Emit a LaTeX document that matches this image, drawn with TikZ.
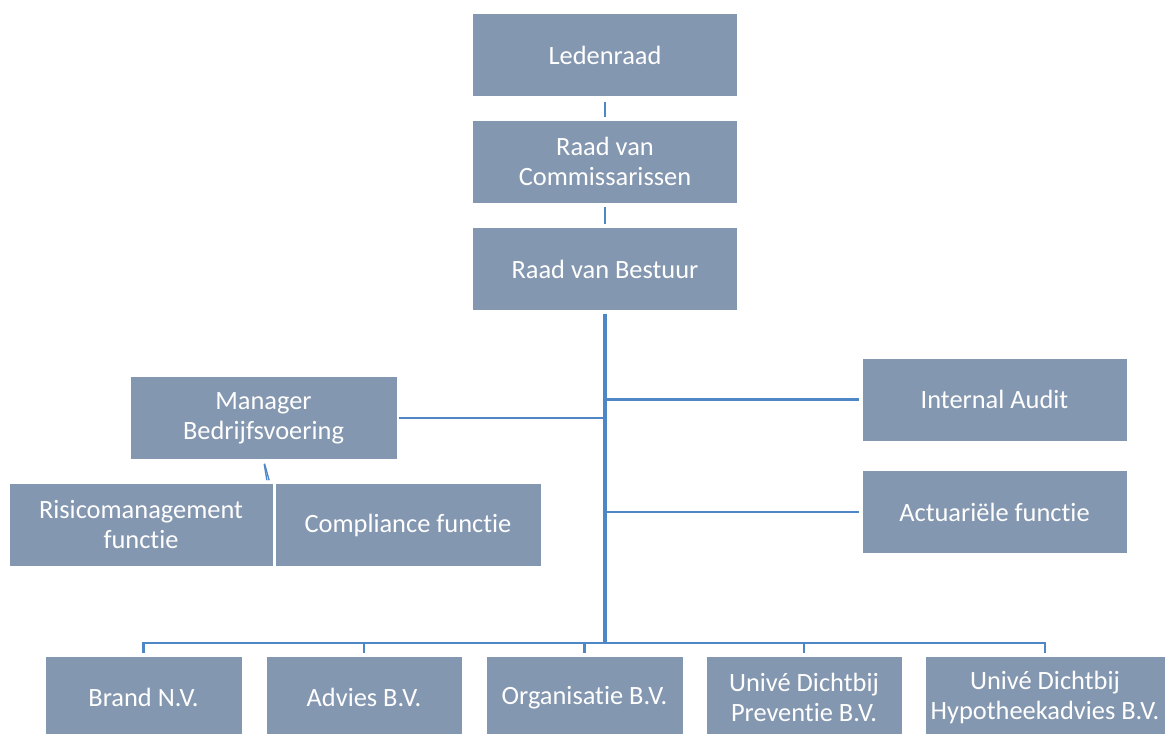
\documentclass[tikz,border=0pt]{standalone}
\usepackage{fontspec}
\setmainfont[Ligatures=NoCommon]{Carlito}
\definecolor{boxfill}{HTML}{8497B0}
\definecolor{linkblue}{HTML}{4F87C6}

\begin{document}
\begin{tikzpicture}[x=0.75pt,y=-0.75pt,
    orgbox/.style={rectangle, fill=boxfill, draw=white, line width=0.6pt,
      text=white, align=center, inner sep=0pt,
      minimum width=#1*0.75pt, minimum height=83*0.75pt,
      font=\fontsize{19.8}{22.5}\selectfont},
    link/.style={draw=linkblue, line width=1.7pt},
    trunk/.style={draw=linkblue, line width=2.4pt}]
    \useasboundingbox (0,0) rectangle (1168,733);

    % Top of the chart
    \node[orgbox=265] (leden) at (605,55) {Ledenraad};
    \node[orgbox=265] (rvc) at (605,161.5) {Raad van\\Commissarissen};
    \node[orgbox=265] (rvb) at (605,269) {Raad van Bestuur};

    % Staff functions
    \node[orgbox=267] (mgr) at (263.5,418) {Manager\\Bedrijfsvoering};
    \node[orgbox=264] (risk) at (141,525) {Risicomanagement\\functie};
    \node[orgbox=266] (comp) at (408,525) {Compliance functie};
    \node[orgbox=265] (audit) at (994.5,399.5) {Internal Audit};
    \node[orgbox=265] (actu) at (994.5,512) {Actuariële functie};

    % Subsidiaries
    \node[orgbox=197] (brand) at (143.5,697.5) {Brand N.V.};
    \node[orgbox=196] (advies) at (364,697.5) {Advies B.V.};
    \node[orgbox=197] (org) at (584.5,697.5) {Organisatie B.V.};
    \node[orgbox=196] (prev) at (804,697.5) {Univé Dichtbij\\Preventie B.V.};
    \node[orgbox=240] (hypo) at (1045,697.5) {Univé Dichtbij\\Hypotheekadvies B.V.};

    % Connectors
    \draw[link, shorten <=3.5pt, shorten >=2.25pt] (leden) -- (rvc);
    \draw[link, shorten <=3pt, shorten >=2.25pt] (rvc) -- (rvb);

    \coordinate (busy) at (0,643);
    \coordinate (bus) at (rvb.south |- busy);

    \draw[link, shorten <=1.5pt] (mgr.east) -- (mgr.east -| bus);
    \draw[link, shorten >=2pt] (audit.west -| bus) -- (audit.west);
    \draw[link, shorten >=2pt] (actu.west -| bus) -- (actu.west);

    \foreach \n in {brand,advies,org,prev,hypo}
        \draw[link, shorten >=2.25pt] (bus) -| (\n.north);

    \draw[trunk, shorten <=2pt] (rvb.south) -- (bus);

    \draw[link, line width=1pt, shorten <=3pt, shorten >=2.25pt] (mgr.south) -- ([xshift=-4.5pt]risk.north east);
    \draw[link, line width=1pt, shorten <=3pt, shorten >=2.25pt] (mgr.south) -- ([xshift=-3.5pt]comp.north west);
\end{tikzpicture}
\end{document}
